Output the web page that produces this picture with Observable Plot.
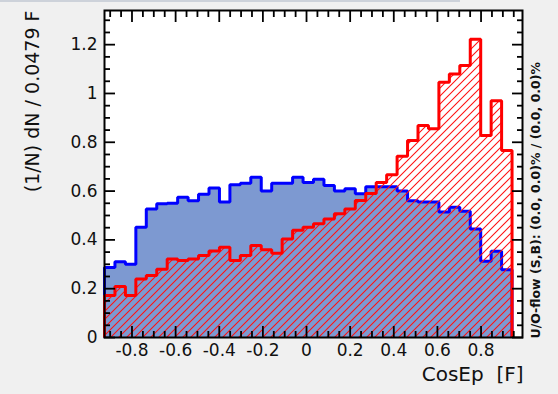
<!DOCTYPE html>
<html><head><meta charset="utf-8">
<script src="https://cdn.jsdelivr.net/npm/d3@7"></script>
<script src="https://cdn.jsdelivr.net/npm/@observablehq/plot@0.6"></script>
<style>
html,body{margin:0;padding:0;background:#f0f0f0;}
#wrap{position:relative;width:558px;height:394px;overflow:hidden;background:#f0f0f0;}
#topbar{position:absolute;left:0;top:0;width:460px;height:2px;background:#cdd2da;}
#chart{position:absolute;left:0;top:0;}
#patdefs{position:absolute;left:0;top:0;width:0;height:0;}
</style></head><body>
<svg id="patdefs" width="0" height="0" xmlns="http://www.w3.org/2000/svg">
  <defs>
    <pattern id="sighatch" patternUnits="userSpaceOnUse" width="8" height="8">
      <polygon points="0,8 0,7.25 7.25,0 8,0 8,0.75 0.75,8" fill="#ff1010"/>
      <polygon points="0,0 0.75,0 0,0.75" fill="#ff1010"/>
      <polygon points="8,8 7.25,8 8,7.25" fill="#ff1010"/>
    </pattern>
  </defs>
</svg>
<div id="wrap"><div id="chart"></div><div id="topbar"></div></div>
<script>
// Histogram binning (40 bins of width 0.0479)
const binStart = -0.926;
const binWidth = 0.0479;
const nBins = 40;

// Signal (red, hatched) normalised bin contents
const signal = [0.172, 0.209, 0.172, 0.240, 0.254, 0.280, 0.322, 0.316, 0.322, 0.336,
                0.354, 0.370, 0.316, 0.336, 0.377, 0.360, 0.345, 0.404, 0.440, 0.452,
                0.466, 0.486, 0.507, 0.527, 0.561, 0.590, 0.635, 0.667, 0.743, 0.807,
                0.869, 0.855, 1.046, 1.080, 1.115, 1.222, 0.828, 0.970, 0.766, 0];

// Background (blue, filled) normalised bin contents
const background = [0.287, 0.310, 0.300, 0.452, 0.527, 0.548, 0.550, 0.575, 0.560, 0.587,
                    0.613, 0.555, 0.626, 0.632, 0.657, 0.600, 0.632, 0.632, 0.657, 0.635,
                    0.648, 0.623, 0.600, 0.610, 0.589, 0.618, 0.618, 0.618, 0.600, 0.560,
                    0.555, 0.555, 0.514, 0.534, 0.517, 0.445, 0.312, 0.353, 0.278, 0];

const xMajorTicks = [-0.8, -0.6, -0.4, -0.2, 0, 0.2, 0.4, 0.6, 0.8];
const xMinorTicks = [-0.9, -0.85, -0.75, -0.7, -0.65, -0.55, -0.5, -0.45, -0.35, -0.3, -0.25,
                     -0.15, -0.1, -0.05, 0.05, 0.1, 0.15, 0.25, 0.3, 0.35, 0.45, 0.5, 0.55,
                     0.65, 0.7, 0.75, 0.85, 0.9, 0.95];
const yMajorTicks = [0, 0.2, 0.4, 0.6, 0.8, 1, 1.2];
const yMinorTicks = [0.05, 0.1, 0.15, 0.25, 0.3, 0.35, 0.45, 0.5, 0.55, 0.65, 0.7, 0.75,
                     0.85, 0.9, 0.95, 1.05, 1.1, 1.15, 1.25, 1.3];

const xTitle = "CosEp  [F]";
const yTitle = "(1/N) dN / 0.0479 F";
const overflowText = "U/O-flow (S,B): (0.0, 0.0)% / (0.0, 0.0)%";

function steps(vals) {
  let last = vals.length;
  while (last > 0 && vals[last - 1] === 0) last--;
  const pts = [{x: binStart, y: 0}];
  for (let i = 0; i < last; i++) {
    const a = binStart + i * binWidth, b = binStart + (i + 1) * binWidth;
    pts.push({x: a, y: vals[i]}, {x: b, y: vals[i]});
  }
  pts.push({x: binStart + last * binWidth, y: 0});
  return pts;
}
const bgPts = steps(background);
const sigPts = steps(signal);
const fmt = d => String(d);
const TS = 11, TSm = 6, TW = 1.8;

const chart = Plot.plot({
  width: 558, height: 394,
  marginLeft: 104, marginRight: 36, marginTop: 10, marginBottom: 57,
  x: {domain: [binStart, binStart + nBins * binWidth]},
  y: {domain: [0, 1.34]},
  style: {fontFamily: "'DejaVu Sans', sans-serif", background: "transparent", color: "#111", overflow: "visible"},
  marks: [
    Plot.frame({fill: "white", stroke: "none"}),
    Plot.area(bgPts, {x1: "x", y1: 0, y2: "y", fill: "#7d99d1"}),
    Plot.line(bgPts, {x: "x", y: "y", stroke: "#0000ff", strokeWidth: 3, strokeLinejoin: "miter", strokeLinecap: "butt"}),
    Plot.area(sigPts, {x1: "x", y1: 0, y2: "y", fill: "url(#sighatch)"}),
    Plot.line(sigPts, {x: "x", y: "y", stroke: "#ff0000", strokeWidth: 3, strokeLinejoin: "miter", strokeLinecap: "butt"}),
    // inward ticks on all four sides
    Plot.axisX({anchor: "bottom", ticks: xMajorTicks, tickSize: TS, dy: -TS, fill: "none", label: null, stroke: "black", strokeWidth: TW}),
    Plot.axisX({anchor: "bottom", ticks: xMinorTicks, tickSize: TSm, dy: -TSm, fill: "none", label: null, stroke: "black", strokeWidth: TW}),
    Plot.axisX({anchor: "top", ticks: xMajorTicks, tickSize: TS, dy: TS, fill: "none", label: null, stroke: "black", strokeWidth: TW}),
    Plot.axisX({anchor: "top", ticks: xMinorTicks, tickSize: TSm, dy: TSm, fill: "none", label: null, stroke: "black", strokeWidth: TW}),
    Plot.axisY({anchor: "left", ticks: yMajorTicks, tickSize: TS, dx: TS, fill: "none", label: null, stroke: "black", strokeWidth: TW}),
    Plot.axisY({anchor: "left", ticks: yMinorTicks, tickSize: TSm, dx: TSm, fill: "none", label: null, stroke: "black", strokeWidth: TW}),
    Plot.axisY({anchor: "right", ticks: yMajorTicks, tickSize: TS, dx: -TS, fill: "none", label: null, stroke: "black", strokeWidth: TW}),
    Plot.axisY({anchor: "right", ticks: yMinorTicks, tickSize: TSm, dx: -TSm, fill: "none", label: null, stroke: "black", strokeWidth: TW}),
    // tick labels
    Plot.axisX({anchor: "bottom", ticks: xMajorTicks, tickSize: 0, tickPadding: 6, label: null, fontSize: 17, tickFormat: fmt}),
    Plot.axisY({anchor: "left", ticks: yMajorTicks, tickSize: 0, tickPadding: 7, label: null, fontSize: 17, tickFormat: fmt}),
    Plot.frame({stroke: "black", strokeWidth: 2}),
    // titles
    Plot.text([yTitle], {frameAnchor: "top-left", text: d => d, rotate: -90, textAnchor: "end", dx: -79, fontSize: 19}),
    Plot.text([xTitle], {frameAnchor: "bottom-right", text: d => d, textAnchor: "end", dy: 43, dx: 1, fontSize: 20}),
    Plot.text([overflowText], {frameAnchor: "bottom-right", text: d => d, rotate: -90, textAnchor: "start", dx: 17, dy: 1, fontSize: 12.5, fontWeight: "bold"})
  ]
});

document.getElementById("chart").appendChild(chart);
</script>
</body></html>
